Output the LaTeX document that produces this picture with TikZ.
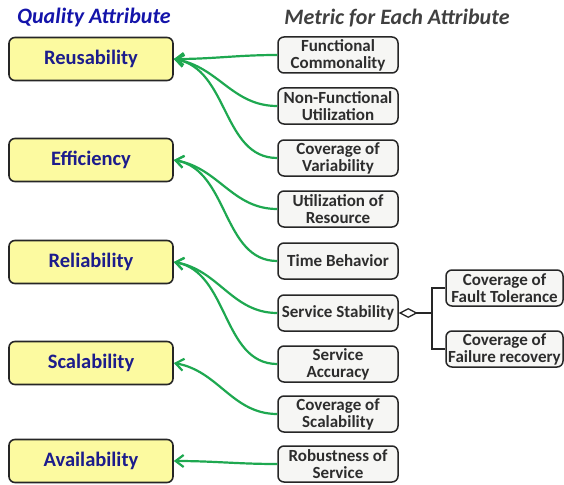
\documentclass[tikz,border=0pt]{standalone}
\usepackage{fontspec}
\setmainfont{Carlito}
\usetikzlibrary{arrows.meta}
\definecolor{qgreen}{RGB}{30,168,80}
\definecolor{qyellow}{RGB}{252,250,160}
\definecolor{qblue}{RGB}{28,28,140}
\definecolor{qtitle}{RGB}{20,20,170}
\definecolor{qgray}{RGB}{64,64,64}
\definecolor{qfill}{RGB}{246,246,244}
\definecolor{qtext}{RGB}{45,45,45}
\begin{document}
\begin{tikzpicture}[x=1pt,y=1pt,
 attr/.style={draw=black!85, line width=1.6pt, rounded corners=6pt, fill=qyellow, minimum width=164pt, minimum height=43pt, text=qblue, font=\fontsize{20.5}{24}\selectfont\bfseries},
 metric/.style={draw=black!85, line width=1.5pt, rounded corners=6pt, fill=qfill, minimum width=120pt, minimum height=36pt, text=qtext, align=center, inner sep=1pt, font=\fontsize{17}{17}\selectfont\bfseries},
 sub/.style={metric, minimum width=117pt},
 link/.style={draw=qgreen, line width=2.2pt, {Straight Barb[length=8pt,width=12pt]}-},
 con/.style={draw=black!85, line width=1.4pt},
 titletext/.style={font=\fontsize{22}{26}\selectfont\bfseries\itshape}
]
\useasboundingbox (0,0) rectangle (564,-484);

\node[titletext, text=qtitle] (t1) at (94,-18) {Quality Attribute};
\node[titletext, text=qgray] (t2) at (397,-18) {Metric for Each Attribute};

\node[attr] (reu) at (91,-59) {Reusability};
\node[attr] (eff) at (91,-160) {Efficiency};
\node[attr] (rel) at (91,-262) {Reliability};
\node[attr] (sca) at (91,-363) {Scalability};
\node[attr] (ava) at (91,-461) {Availability};

\node[metric] (fc) at (338,-55) {Functional\\Commonality};
\node[metric] (nf) at (338,-106) {Non-Functional\\Utilization};
\node[metric] (cv) at (338,-158) {Coverage of\\Variability};
\node[metric] (ur) at (338,-209) {Utilization of\\Resource};
\node[metric] (tb) at (338,-261) {Time Behavior};
\node[metric] (ss) at (338,-313) {Service Stability};
\node[metric] (sa) at (338,-364) {Service\\Accuracy};
\node[metric] (cs) at (338,-414) {Coverage of\\Scalability};
\node[metric] (rs) at (338,-464) {Robustness of\\Service};

\node[sub] (ft) at (504.5,-288) {Coverage of\\Fault Tolerance};
\node[sub] (fr) at (504.5,-349) {Coverage of\\Failure recovery};

\coordinate (j) at (432,-313);
\draw[con, -{Diamond[open,length=19pt,width=10pt,line width=1.3pt]}] (j) -- (ss.east);
\draw[con] (j) |- (ft.west);
\draw[con] (j) |- (fr.west);

\draw[link] (reu.east) .. controls +(40,0) and +(-40,0) .. (fc.west);
\draw[link] (reu.east) .. controls +(45,-8) and +(-45,0) .. (nf.west);
\draw[link] (reu.east) .. controls +(55,-10) and +(-55,0) .. (cv.west);
\draw[link] (eff.east) .. controls +(45,-8) and +(-45,0) .. (ur.west);
\draw[link] (eff.east) .. controls +(55,-10) and +(-55,0) .. (tb.west);
\draw[link] (rel.east) .. controls +(45,-8) and +(-45,0) .. (ss.west);
\draw[link] (rel.east) .. controls +(55,-10) and +(-55,0) .. (sa.west);
\draw[link] (sca.east) .. controls +(45,-8) and +(-45,0) .. (cs.west);
\draw[link] (ava.east) .. controls +(40,0) and +(-40,0) .. (rs.west);
\end{tikzpicture}
\end{document}
